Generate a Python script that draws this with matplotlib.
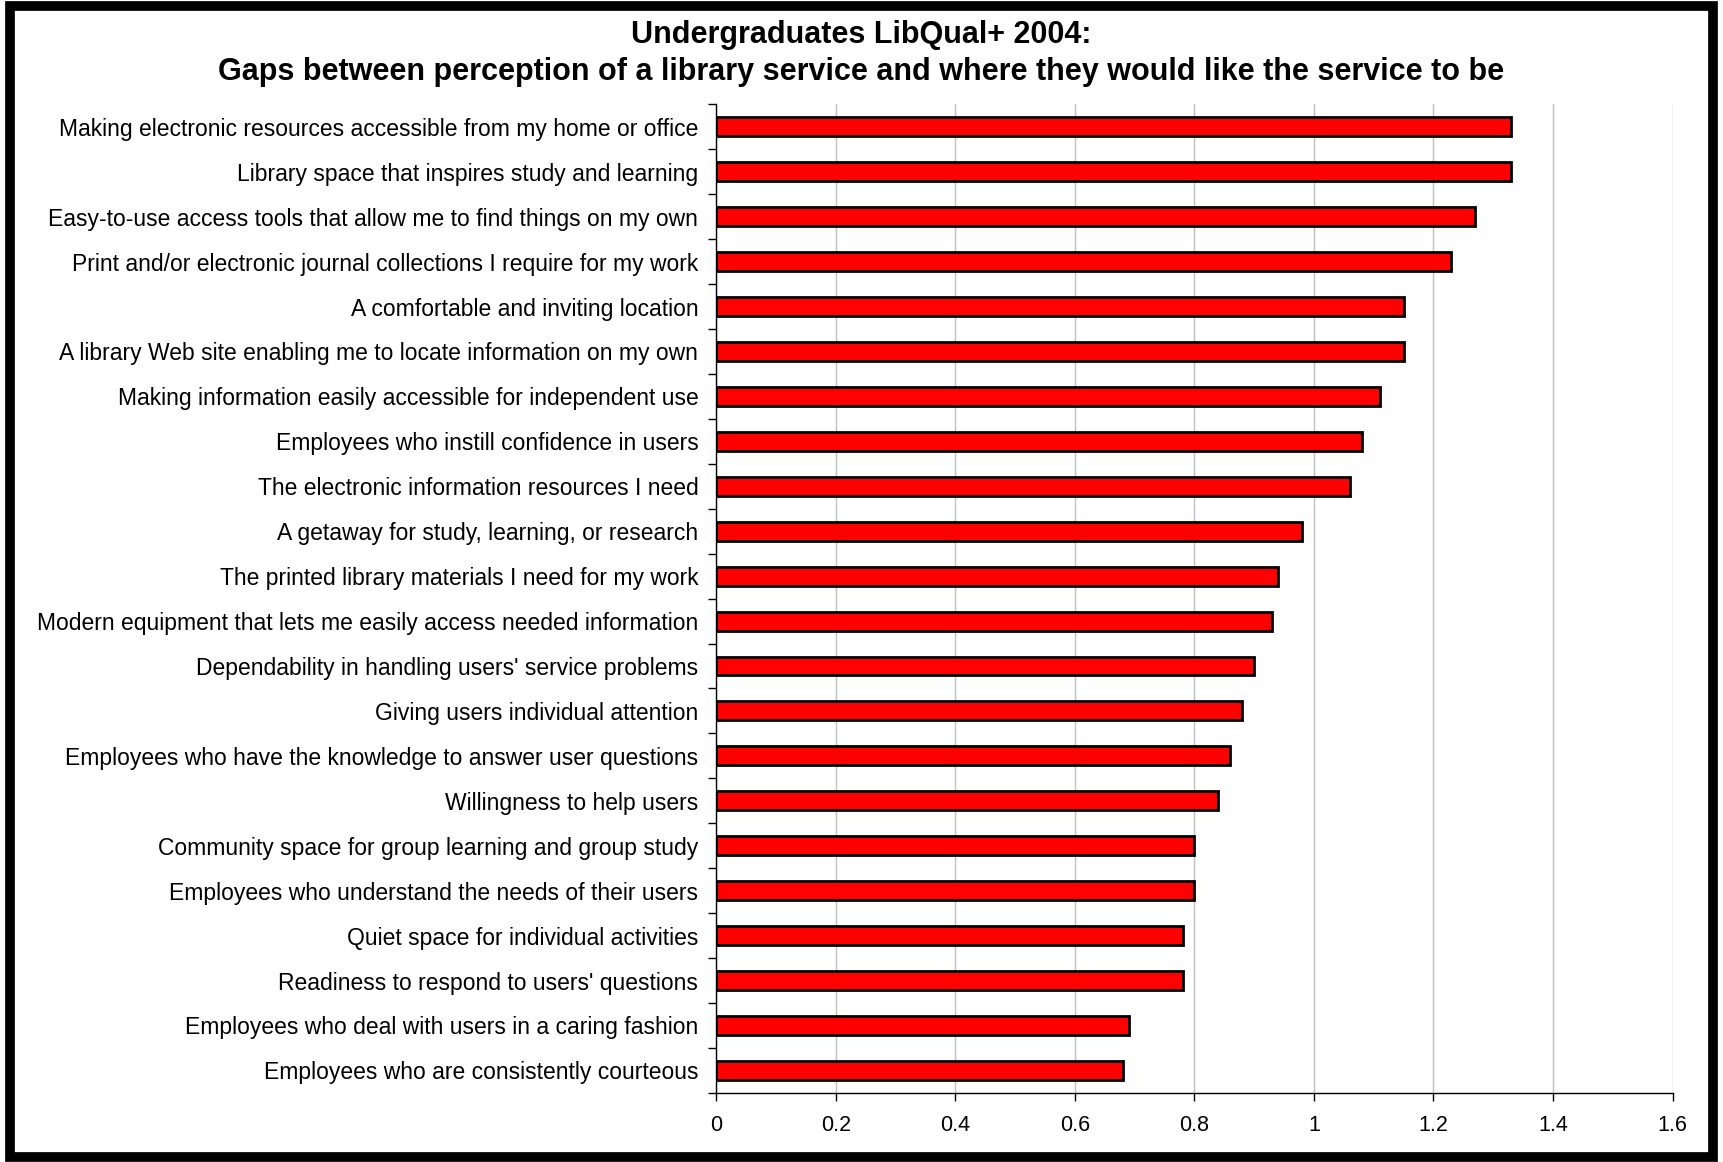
import numpy as np
import matplotlib
matplotlib.use('Agg')
from matplotlib import pyplot as plt
from matplotlib.patches import Rectangle

# data (top to bottom, as shown)
services = [
    'Making electronic resources accessible from my home or office',
    'Library space that inspires study and learning',
    'Easy-to-use access tools that allow me to find things on my own',
    'Print and/or electronic journal collections I require for my work',
    'A comfortable and inviting location',
    'A library Web site enabling me to locate information on my own',
    'Making information easily accessible for independent use',
    'Employees who instill confidence in users',
    'The electronic information resources I need',
    'A getaway for study, learning, or research',
    'The printed library materials I need for my work',
    'Modern equipment that lets me easily access needed information',
    "Dependability in handling users' service problems",
    'Giving users individual attention',
    'Employees who have the knowledge to answer user questions',
    'Willingness to help users',
    'Community space for group learning and group study',
    'Employees who understand the needs of their users',
    'Quiet space for individual activities',
    "Readiness to respond to users' questions",
    'Employees who deal with users in a caring fashion',
    'Employees who are consistently courteous',
]
gaps = [1.33, 1.33, 1.27, 1.23, 1.15, 1.15, 1.11, 1.08, 1.06, 0.98, 0.94,
        0.93, 0.90, 0.88, 0.86, 0.84, 0.80, 0.80, 0.78, 0.78, 0.69, 0.68]
xticks = [0, 0.2, 0.4, 0.6, 0.8, 1, 1.2, 1.4, 1.6]
xticklabels = ['0', '0.2', '0.4', '0.6', '0.8', '1', '1.2', '1.4', '1.6']

plt.rcParams['font.family'] = ['Liberation Sans', 'DejaVu Sans']

fig = plt.figure(figsize=(17.23, 11.62), dpi=100)
ax = fig.add_axes([0.4158, 0.0595, 0.5549, 0.8507])

ypos = np.arange(len(services))
ax.barh(ypos, gaps, height=0.42, color='#ff0000', edgecolor='black', linewidth=2, zorder=3)

ax.set_ylim(len(services) - 0.5, -0.5)
ax.set_xlim(0, 1.6)
ax.set_yticks(ypos)
ax.set_yticklabels(services, fontsize=16.5)
ax.set_yticks(np.arange(len(services) + 1) - 0.5, minor=True)
ax.tick_params(axis='y', which='major', length=0, pad=13)
ax.tick_params(axis='y', which='minor', length=6, width=1, direction='out')
ax.set_xticks(xticks)
ax.set_xticklabels(xticklabels, fontsize=15.5)
ax.tick_params(axis='x', length=6, width=1, direction='out', pad=10)

ax.grid(axis='x', color='#c0c0c0', linewidth=1, zorder=0)
ax.spines['top'].set_visible(False)
ax.spines['right'].set_visible(False)
ax.spines['left'].set_linewidth(1)
ax.spines['bottom'].set_linewidth(1)

fig.text(0.5, 0.970, 'Undergraduates LibQual+ 2004:', ha='center', va='center',
         fontsize=22, fontweight='bold')
fig.text(0.5, 0.938, 'Gaps between perception of a library service and where they would like the service to be',
         ha='center', va='center', fontsize=22, fontweight='bold')

# outer frame
fig.patches.append(Rectangle((0.006, 0.004), 0.988, 0.991, transform=fig.transFigure,
                             fill=False, edgecolor='black', linewidth=7))

fig.savefig('out.png', dpi=100)
